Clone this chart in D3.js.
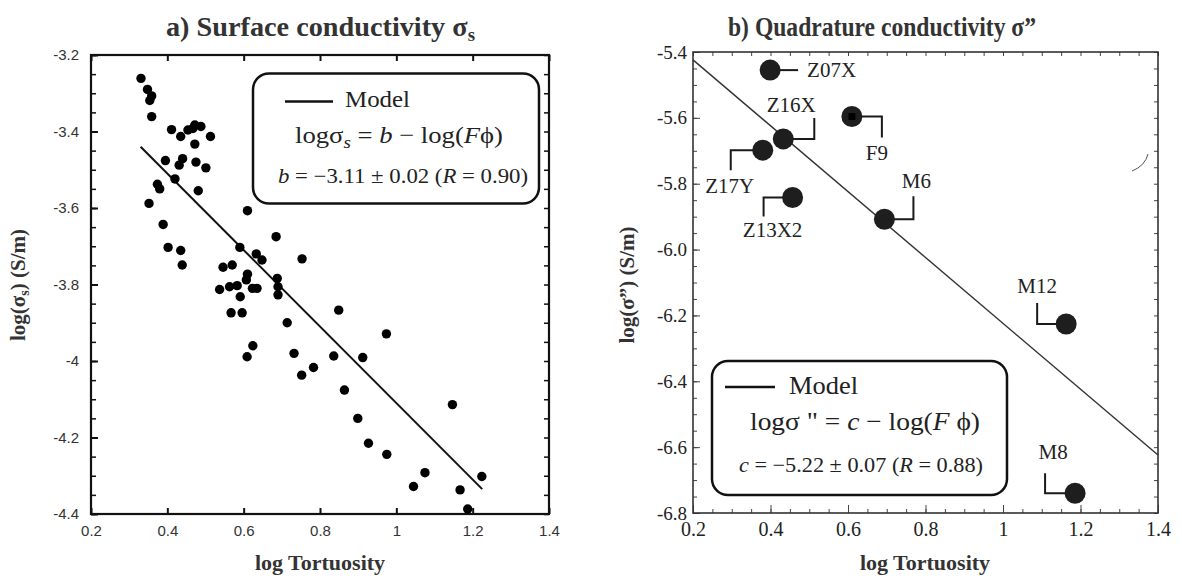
<!DOCTYPE html>
<html><head><meta charset="utf-8">
<script src="https://cdn.jsdelivr.net/npm/d3@7/dist/d3.min.js"></script>
<style>
html,body{margin:0;padding:0;background:#fff;}
svg{display:block;}
</style></head>
<body>
<svg id="chart" width="1182" height="579"></svg>
<script>
// ---------- DATA ----------
const surfaceX = [0.331,0.348,0.359,0.354,0.359,0.411,0.435,0.454,0.467,0.472,0.488,0.472,0.513,
  0.395,0.440,0.431,0.475,0.501,0.420,0.374,0.380,0.481,0.352,0.389,0.402,0.435,0.439,
  0.610,0.590,0.685,0.633,0.648,0.753,0.546,0.570,0.688,0.610,0.537,0.563,0.583,0.607,0.623,0.635,0.690,0.690,0.591,
  0.567,0.596,0.714,0.624,0.609,0.732,0.752,
  0.849,0.974,0.836,0.912,0.783,0.864,1.147,0.899,0.927,0.975,1.075,1.045,1.224,1.167,1.187];
const surfaceY = [-3.261,-3.290,-3.307,-3.319,-3.361,-3.395,-3.413,-3.396,-3.392,-3.383,-3.387,-3.433,-3.413,
  -3.476,-3.471,-3.488,-3.480,-3.495,-3.524,-3.538,-3.550,-3.555,-3.588,-3.643,-3.703,-3.711,-3.749,
  -3.607,-3.703,-3.675,-3.720,-3.736,-3.733,-3.755,-3.749,-3.784,-3.773,-3.813,-3.806,-3.803,-3.788,-3.810,-3.810,-3.806,-3.827,-3.832,
  -3.874,-3.874,-3.900,-3.960,-3.989,-3.980,-4.037,
  -3.867,-3.929,-3.987,-3.991,-4.017,-4.076,-4.114,-4.150,-4.215,-4.244,-4.292,-4.328,-4.302,-4.337,-4.387];
const surfaceModelB = -3.11;
const surfaceModelX = [0.33, 1.225];

const quadNames = ["Z07X","Z16X","Z17Y","F9","Z13X2","M6","M12","M8"];
const quadX = [0.399,0.433,0.380,0.610,0.457,0.694,1.163,1.186];
const quadY = [-5.455,-5.664,-5.698,-5.596,-5.842,-5.908,-6.226,-6.740];
const quadModelC = -5.224;
const quadModelX = [0.2, 1.4];

const xTickValues = [0.2,0.4,0.6,0.8,1.0,1.2,1.4];
const xTickLabels = ["0.2","0.4","0.6","0.8","1","1.2","1.4"];
const leftYTickValues = [-3.2,-3.4,-3.6,-3.8,-4.0,-4.2,-4.4];
const leftYTickLabels = ["-3.2","-3.4","-3.6","-3.8","-4","-4.2","-4.4"];
const rightYTickValues = [-5.4,-5.6,-5.8,-6.0,-6.2,-6.4,-6.6,-6.8];
const rightYTickLabels = ["-5.4","-5.6","-5.8","-6.0","-6.2","-6.4","-6.6","-6.8"];

// ---------- LAYOUT ----------
const svg = d3.select("#chart");
const serif = "'Liberation Serif','Times New Roman',serif";
const sans = "'Liberation Sans',Arial,sans-serif";

const xL = d3.scaleLinear().domain([0.2,1.4]).range([91,549]);
const yL = d3.scaleLinear().domain([-4.4,-3.2]).range([514,55]);
const xR = d3.scaleLinear().domain([0.2,1.4]).range([693,1158]);
const yR = d3.scaleLinear().domain([-6.8,-5.4]).range([513,52]);

function minorVals(a,b,step){const v=[];for(let i=0;;i++){const t=+(a+i*step).toFixed(4);if(t>b+1e-9)break;v.push(t);}return v;}

// ======= LEFT PANEL =======
const gL = svg.append("g");
function styleAxis(g,color,font,size,width){
  g.select(".domain").remove();
  g.selectAll("line").attr("stroke",color).attr("stroke-width",width);
  g.selectAll("text").attr("font-family",font).attr("font-size",size).attr("fill","#333");
}
gL.append("g").attr("transform",`translate(0,${yL(-4.4)})`)
  .call(d3.axisBottom(xL).tickValues(xTickValues).tickFormat((d,i)=>xTickLabels[i]).tickSize(-6).tickPadding(11))
  .call(g=>styleAxis(g,"#111",sans,15,2));
gL.append("g").attr("transform",`translate(0,${yL(-3.2)})`)
  .call(d3.axisTop(xL).tickValues(xTickValues).tickFormat("").tickSize(-6))
  .call(g=>styleAxis(g,"#111",sans,15,2));
gL.append("g").attr("transform",`translate(${xL(0.2)},0)`)
  .call(d3.axisLeft(yL).tickValues(minorVals(-4.4,-3.2,0.05)).tickFormat("").tickSize(-5))
  .call(g=>styleAxis(g,"#111",sans,15,1.5));
gL.append("g").attr("transform",`translate(${xL(0.2)},0)`)
  .call(d3.axisLeft(yL).tickValues(leftYTickValues).tickFormat((d,i)=>leftYTickLabels[i]).tickSize(-7).tickPadding(12))
  .call(g=>styleAxis(g,"#111",sans,15,2));
gL.append("g").attr("transform",`translate(${xL(1.4)},0)`)
  .call(d3.axisRight(yL).tickValues(minorVals(-4.4,-3.2,0.05)).tickFormat("").tickSize(-5))
  .call(g=>styleAxis(g,"#111",sans,15,1.5));
gL.append("rect").attr("x",xL(0.2)).attr("y",yL(-3.2)).attr("width",xL(1.4)-xL(0.2)).attr("height",yL(-4.4)-yL(-3.2))
  .attr("fill","none").attr("stroke","#111").attr("stroke-width",2.2);

gL.append("line")
  .attr("x1",xL(surfaceModelX[0])).attr("y1",yL(surfaceModelB-surfaceModelX[0]))
  .attr("x2",xL(surfaceModelX[1])).attr("y2",yL(surfaceModelB-surfaceModelX[1]))
  .attr("stroke","#111").attr("stroke-width",2);
gL.selectAll("circle.pt").data(surfaceX).join("circle").attr("class","pt")
  .attr("cx",d=>xL(d)).attr("cy",(d,i)=>yL(surfaceY[i])).attr("r",4.7).attr("fill","#000");

// legend left
const lgL = gL.append("g");
lgL.append("rect").attr("x",253).attr("y",73.5).attr("width",286).attr("height",130).attr("rx",16)
  .attr("fill","#fff").attr("stroke","#111").attr("stroke-width",2.5);
lgL.append("line").attr("x1",285).attr("x2",333).attr("y1",101.5).attr("y2",101.5).attr("stroke","#111").attr("stroke-width",2.5);
lgL.append("text").attr("x",345).attr("y",107).attr("font-family",serif).attr("font-size",24).attr("fill","#222")
  .attr("textLength",65).attr("lengthAdjust","spacingAndGlyphs").text("Model");
const eqL = lgL.append("text").attr("x",295).attr("y",143).attr("font-family",serif).attr("font-size",24).attr("fill","#222")
  .attr("textLength",208).attr("lengthAdjust","spacingAndGlyphs");
eqL.append("tspan").text("log\u03C3");
eqL.append("tspan").attr("font-style","italic").attr("font-size",17).attr("dy",5).text("s");
eqL.append("tspan").attr("dy",-5).text(" = ");
eqL.append("tspan").attr("font-style","italic").text("b");
eqL.append("tspan").text(" \u2212 log(");
eqL.append("tspan").attr("font-style","italic").text("F");
eqL.append("tspan").text("\u03D5)");
const bL = lgL.append("text").attr("x",278).attr("y",183).attr("font-family",serif).attr("font-size",21).attr("fill","#222")
  .attr("textLength",250).attr("lengthAdjust","spacingAndGlyphs");
bL.append("tspan").attr("font-style","italic").text("b");
bL.append("tspan").text(" = \u22123.11 \u00B1 0.02 (");
bL.append("tspan").attr("font-style","italic").text("R");
bL.append("tspan").text(" = 0.90)");

// titles & axis labels left
const tL = svg.append("text").attr("x",166).attr("y",36)
  .attr("font-family",serif).attr("font-weight","bold").attr("font-size",27).attr("fill","#333")
  .attr("textLength",309).attr("lengthAdjust","spacingAndGlyphs");
tL.append("tspan").text("a) Surface conductivity \u03C3");
tL.append("tspan").attr("font-size",18).attr("dy",5).text("s");
svg.append("text").attr("x",320).attr("y",570).attr("text-anchor","middle")
  .attr("font-family",serif).attr("font-weight","bold").attr("font-size",22).attr("fill","#333").text("log Tortuosity");
const ylL = svg.append("text").attr("transform","translate(25,285) rotate(-90)").attr("text-anchor","middle")
  .attr("font-family",serif).attr("font-weight","bold").attr("font-size",21).attr("fill","#333");
ylL.append("tspan").text("log(\u03C3");
ylL.append("tspan").attr("font-size",14).attr("dy",4).text("s");
ylL.append("tspan").attr("dy",-4).text(") (S/m)");

// ======= RIGHT PANEL =======
const gR = svg.append("g");
const axC = "#444";
gR.append("g").attr("transform",`translate(0,${yR(-6.8)})`)
  .call(d3.axisBottom(xR).tickValues(minorVals(0.2,1.4,0.05)).tickFormat("").tickSize(-4))
  .call(g=>styleAxis(g,axC,serif,20,1));
gR.append("g").attr("transform",`translate(0,${yR(-6.8)})`)
  .call(d3.axisBottom(xR).tickValues(xTickValues).tickFormat((d,i)=>xTickLabels[i]).tickSize(-8).tickPadding(9))
  .call(g=>styleAxis(g,axC,serif,20,1));
gR.append("g").attr("transform",`translate(0,${yR(-5.4)})`)
  .call(d3.axisTop(xR).tickValues(minorVals(0.2,1.4,0.05)).tickFormat("").tickSize(-4))
  .call(g=>styleAxis(g,axC,serif,20,1));
gR.append("g").attr("transform",`translate(${xR(0.2)},0)`)
  .call(d3.axisLeft(yR).tickValues(minorVals(-6.8,-5.4,0.05)).tickFormat("").tickSize(-4))
  .call(g=>styleAxis(g,axC,serif,20,1));
gR.append("g").attr("transform",`translate(${xR(0.2)},0)`)
  .call(d3.axisLeft(yR).tickValues(rightYTickValues).tickFormat((d,i)=>rightYTickLabels[i]).tickSize(-7).tickPadding(6))
  .call(g=>styleAxis(g,axC,serif,19,1));
gR.append("g").attr("transform",`translate(${xR(1.4)},0)`)
  .call(d3.axisRight(yR).tickValues(minorVals(-6.8,-5.4,0.05)).tickFormat("").tickSize(-4))
  .call(g=>styleAxis(g,axC,serif,20,1));
gR.selectAll("text").attr("fill","#222");
gR.append("rect").attr("x",xR(0.2)).attr("y",yR(-5.4)).attr("width",xR(1.4)-xR(0.2)).attr("height",yR(-6.8)-yR(-5.4))
  .attr("fill","none").attr("stroke","#333").attr("stroke-width",1.6);

gR.append("line")
  .attr("x1",xR(quadModelX[0])).attr("y1",yR(quadModelC-quadModelX[0]))
  .attr("x2",xR(quadModelX[1])).attr("y2",yR(quadModelC-quadModelX[1]))
  .attr("stroke","#333").attr("stroke-width",1.4);

gR.append("path").attr("d","M1132,171 Q1145,166 1148,154").attr("fill","none").attr("stroke","#555").attr("stroke-width",1);

const labelLayout = [
  {ex:28, ey:0,   tx:37,  ty:7,   a:"start"},
  {ex:31, ey:-21, tx:8,   ty:-27, a:"middle"},
  {ex:-32,ey:20,  tx:-33, ty:43,  a:"middle"},
  {ex:30, ey:21,  tx:25,  ty:43,  a:"middle"},
  {ex:-29,ey:19,  tx:-20, ty:39,  a:"middle"},
  {ex:29, ey:-23, tx:32,  ty:-31, a:"middle"},
  {ex:-29,ey:-21, tx:-29, ty:-31, a:"middle"},
  {ex:-30,ey:-20, tx:-22, ty:-34, a:"middle"}
];
const qg = gR.selectAll("g.q").data(quadNames).join("g").attr("class","q")
  .attr("transform",(d,i)=>`translate(${xR(quadX[i])},${yR(quadY[i])})`);
qg.append("path").attr("d",(d,i)=>{const L=labelLayout[i];return `M0,0H${L.ex}V${L.ey}`;})
  .attr("fill","none").attr("stroke","#1a1a1a").attr("stroke-width",2);
qg.append("circle").attr("r",10.5).attr("fill","#1e1e1e");
qg.filter(d=>d==="F9").append("rect").attr("x",-3.5).attr("y",-3.5).attr("width",7).attr("height",7).attr("fill","#000");
qg.append("text").attr("x",(d,i)=>labelLayout[i].tx).attr("y",(d,i)=>labelLayout[i].ty)
  .attr("text-anchor",(d,i)=>labelLayout[i].a).attr("font-family",serif).attr("font-size",21).attr("fill","#222").text(d=>d);

// legend right
const lgR = gR.append("g");
lgR.append("rect").attr("x",712).attr("y",361).attr("width",295).attr("height",134).attr("rx",16)
  .attr("fill","#fff").attr("stroke","#111").attr("stroke-width",2.5);
lgR.append("line").attr("x1",725).attr("x2",775).attr("y1",387).attr("y2",387).attr("stroke","#111").attr("stroke-width",2.5);
lgR.append("text").attr("x",789).attr("y",394).attr("font-family",serif).attr("font-size",25).attr("fill","#222")
  .attr("textLength",69).attr("lengthAdjust","spacingAndGlyphs").text("Model");
const eqR = lgR.append("text").attr("x",750).attr("y",430).attr("font-family",serif).attr("font-size",26).attr("fill","#222")
  .attr("textLength",230).attr("lengthAdjust","spacingAndGlyphs");
eqR.append("tspan").text("log\u03C3 \" = ");
eqR.append("tspan").attr("font-style","italic").text("c");
eqR.append("tspan").text(" \u2212 log(");
eqR.append("tspan").attr("font-style","italic").text("F");
eqR.append("tspan").text(" \u03D5)");
const cR = lgR.append("text").attr("x",739).attr("y",472).attr("font-family",serif).attr("font-size",21).attr("fill","#222")
  .attr("textLength",244).attr("lengthAdjust","spacingAndGlyphs");
cR.append("tspan").attr("font-style","italic").text("c");
cR.append("tspan").text(" = \u22125.22 \u00B1 0.07 (");
cR.append("tspan").attr("font-style","italic").text("R");
cR.append("tspan").text(" = 0.88)");

// titles & axis labels right
svg.append("text").attr("x",728).attr("y",36)
  .attr("font-family",serif).attr("font-weight","bold").attr("font-size",27).attr("fill","#333")
  .attr("textLength",308).attr("lengthAdjust","spacingAndGlyphs")
  .text("b) Quadrature conductivity \u03C3\u201D");
svg.append("text").attr("x",925).attr("y",570).attr("text-anchor","middle")
  .attr("font-family",serif).attr("font-weight","bold").attr("font-size",22).attr("fill","#333").text("log Tortuosity");
svg.append("text").attr("transform","translate(634,285) rotate(-90)").attr("text-anchor","middle")
  .attr("font-family",serif).attr("font-weight","bold").attr("font-size",21).attr("fill","#333")
  .text("log(\u03C3\u201D) (S/m)");
</script>
</body></html>
